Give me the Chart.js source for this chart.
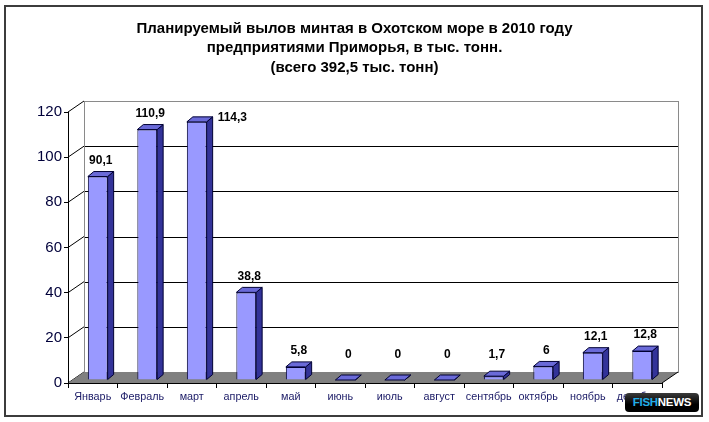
<!DOCTYPE html>
<html>
<head>
<meta charset="utf-8">
<script src="https://cdn.jsdelivr.net/npm/chart.js@4/dist/chart.umd.min.js"></script>
<style>
  html, body { margin: 0; padding: 0; background: #fff; }
  #wrap { position: relative; width: 709px; height: 422px; }
  #logo {
    position: absolute; left: 625px; top: 393px; width: 74px; height: 19px;
    border-radius: 4px; background: linear-gradient(#3a3a3a, #000 60%);
    font: bold 11.5px "Liberation Sans", Arial, sans-serif; line-height: 19px;
    text-align: center; letter-spacing: -0.3px;
  }
  #logo .a { color: #22aee8; }
  #logo .b { color: #fff; }
</style>
</head>
<body>
<div id="wrap">
  <canvas id="c" width="709" height="422"></canvas>
  <div id="logo"><span class="a">FISH</span><span class="b">NEWS</span></div>
</div>
<script>
const titleLines = [
  'Планируемый вылов минтая в Охотском море в 2010 году',
  'предприятиями Приморья, в тыс. тонн.',
  '(всего 392,5 тыс. тонн)'
];
const categories = ['Январь', 'Февраль', 'март', 'апрель', 'май', 'июнь', 'июль', 'август', 'сентябрь', 'октябрь', 'ноябрь', 'декабрь'];
const catchValues = [90.1, 110.9, 114.3, 38.8, 5.8, 0, 0, 0, 1.7, 6, 12.1, 12.8];
const yTickValues = [0, 20, 40, 60, 80, 100, 120];

// 3D look parameters
const WALL_DX = 16, WALL_DY = -11;   // depth of floor / walls
const BAR_SHIFT_X = 5, BAR_SHIFT_Y = -3; // bars sit in the middle of the depth
const BAR_DX = 6, BAR_DY = -5;       // bar depth
const FONT = '"Liberation Sans", Arial, sans-serif';

function fmt(v) { return String(v).replace('.', ','); }

const threeD = {
  id: 'threeD',
  beforeDraw(chart) {
    const ctx = chart.ctx;
    const a = chart.chartArea;
    const y = chart.scales.y;
    ctx.save();
    ctx.fillStyle = '#fff';
    ctx.fillRect(0, 0, chart.width, chart.height);
    // outer frame
    ctx.strokeStyle = '#3c3c3c';
    ctx.lineWidth = 2;
    ctx.strokeRect(5, 6, 697, 410);
    // back wall
    const bl = a.left + WALL_DX, br = a.right + WALL_DX;
    const bt = a.top + WALL_DY, bb = a.bottom + WALL_DY;
    ctx.fillStyle = '#fff';
    ctx.fillRect(bl, bt, br - bl, bb - bt);
    // back wall gridlines
    ctx.lineWidth = 1;
    ctx.strokeStyle = '#000';
    yTickValues.forEach(v => {
      if (v === 0 || v === 120) return;
      const py = Math.round(y.getPixelForValue(v) + WALL_DY) + 0.5;
      ctx.beginPath(); ctx.moveTo(bl, py); ctx.lineTo(br, py); ctx.stroke();
    });
    // back wall border
    ctx.strokeStyle = '#8a8a8a';
    ctx.strokeRect(Math.round(bl) + 0.5, Math.round(bt) + 0.5, Math.round(br - bl), Math.round(bb - bt));
    // left wall diagonals
    ctx.strokeStyle = '#000';
    yTickValues.forEach(v => {
      const py = y.getPixelForValue(v);
      ctx.beginPath(); ctx.moveTo(a.left, py); ctx.lineTo(a.left + WALL_DX, py + WALL_DY); ctx.stroke();
    });
    // floor
    ctx.fillStyle = '#808080';
    ctx.beginPath();
    ctx.moveTo(a.left, a.bottom);
    ctx.lineTo(a.right, a.bottom);
    ctx.lineTo(a.right + WALL_DX, a.bottom + WALL_DY);
    ctx.lineTo(a.left + WALL_DX, a.bottom + WALL_DY);
    ctx.closePath();
    ctx.fill();
    ctx.strokeStyle = '#000';
    ctx.beginPath();
    ctx.moveTo(a.right, a.bottom); ctx.lineTo(a.right + WALL_DX, a.bottom + WALL_DY);
    ctx.stroke();
    ctx.restore();
  },
  beforeDatasetsDraw(chart) {
    chart.ctx.save();
    chart.ctx.translate(BAR_SHIFT_X, BAR_SHIFT_Y);
  },
  afterDatasetsDraw(chart) {
    const ctx = chart.ctx;
    const meta = chart.getDatasetMeta(0);
    ctx.lineWidth = 1;
    ctx.strokeStyle = '#000033';
    meta.data.forEach(bar => {
      const p = bar.getProps(['x', 'y', 'base', 'width'], true);
      const l = p.x - p.width / 2, r = p.x + p.width / 2;
      // side
      ctx.fillStyle = '#333399';
      ctx.beginPath();
      ctx.moveTo(r, p.y); ctx.lineTo(r + BAR_DX, p.y + BAR_DY);
      ctx.lineTo(r + BAR_DX, p.base + BAR_DY); ctx.lineTo(r, p.base);
      ctx.closePath(); ctx.fill(); ctx.stroke();
      // top
      ctx.fillStyle = '#6a6ad8';
      ctx.beginPath();
      ctx.moveTo(l, p.y); ctx.lineTo(l + BAR_DX, p.y + BAR_DY);
      ctx.lineTo(r + BAR_DX, p.y + BAR_DY); ctx.lineTo(r, p.y);
      ctx.closePath(); ctx.fill(); ctx.stroke();
    });
    ctx.restore();
    // data labels
    ctx.save();
    ctx.font = 'bold 12px ' + FONT;
    ctx.fillStyle = '#000';
    ctx.textBaseline = 'middle';
    const top = chart.chartArea.top;
    meta.data.forEach((bar, i) => {
      const p = bar.getProps(['x', 'y', 'base', 'width'], true);
      const cx = p.x + BAR_SHIFT_X + BAR_DX / 2;
      const topFace = p.y + BAR_SHIFT_Y + BAR_DY;
      let ly = Math.min(topFace - 11, p.base + BAR_SHIFT_Y - 25);
      const txt = fmt(catchValues[i]);
      if (ly < top - 4) {
        ctx.textAlign = 'left';
        ctx.fillText(txt, p.x + p.width / 2 + BAR_SHIFT_X + BAR_DX + 5, topFace + 1);
      } else {
        ctx.textAlign = 'center';
        ctx.fillText(txt, cx, ly);
      }
    });
    ctx.restore();
  }
};

new Chart(document.getElementById('c'), {
  type: 'bar',
  data: {
    labels: categories,
    datasets: [{
      data: catchValues,
      backgroundColor: '#9999ff',
      borderColor: '#000033',
      borderWidth: 1,
      barPercentage: 0.8,
      categoryPercentage: 0.5
    }]
  },
  options: {
    responsive: false,
    animation: false,
    events: [],
    layout: { padding: 0 },
    plugins: {
      legend: { display: false },
      tooltip: { enabled: false },
      title: {
        display: true,
        text: titleLines,
        color: '#000',
        font: { family: FONT, size: 15, weight: 'bold', lineHeight: '19.5px' },
        padding: { top: 19, bottom: 34.5 }
      }
    },
    scales: {
      x: {
        afterFit(s) { s.height = 39; },
        grid: { drawOnChartArea: false, drawTicks: true, tickLength: 5, color: '#000' },
        border: { display: true, color: '#000', width: 1 },
        ticks: { color: '#1a1a66', font: { family: FONT, size: 10.8 }, padding: 3, maxRotation: 0, autoSkip: false }
      },
      y: {
        min: 0, max: 120,
        afterFit(s) { s.width = 68; },
        afterBuildTicks(s) { s.ticks = yTickValues.map(v => ({ value: v })); },
        grid: { drawOnChartArea: false, drawTicks: true, tickLength: 4, color: '#000' },
        border: { display: true, color: '#000', width: 1 },
        ticks: { color: '#00003a', font: { family: FONT, size: 15 }, padding: 2 }
      },
      yRight: {
        position: 'right',
        min: 0, max: 120,
        afterFit(s) { s.width = 47; },
        grid: { display: false },
        border: { display: false },
        ticks: { display: false }
      }
    }
  },
  plugins: [threeD]
});
</script>
</body>
</html>
